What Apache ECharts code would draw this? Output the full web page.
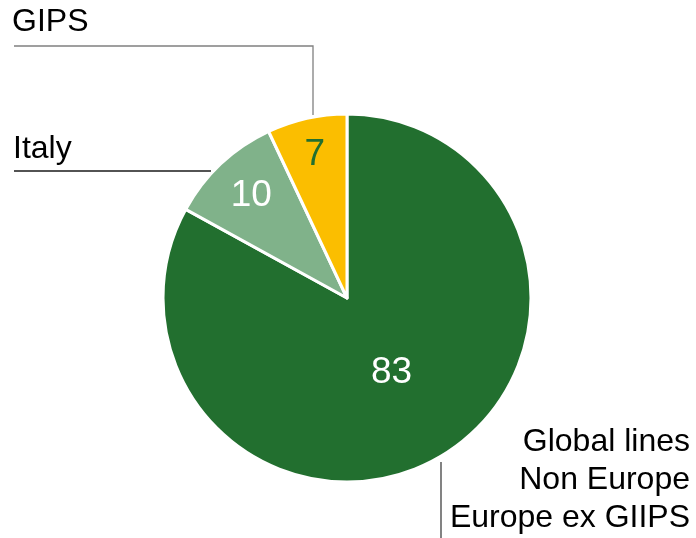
<!DOCTYPE html>
<html>
<head>
<meta charset="utf-8">
<script src="https://cdn.jsdelivr.net/npm/echarts@6/dist/echarts.min.js"></script>
<style>
  html, body { margin: 0; padding: 0; background: #fff; }
  #chart { width: 696px; height: 538px; }
</style>
</head>
<body>
<div id="chart"></div>
<script>
// slice data, clockwise from 12 o'clock
const names = ['Global lines\nNon Europe\nEurope ex GIIPS', 'Italy', 'GIPS'];
const values = [83, 10, 7];
const colors = ['#226f2f', '#80b28a', '#fbbe00'];
const valueColors = ['#ffffff', '#ffffff', '#226f2f'];

const CENTER = [347, 298];
const RADIUS = 184;
const FONT = '"Liberation Sans", Arial, sans-serif';

// where each value label sits, as a fraction of the radius
const valueLabelRadius = [0.475, 0.76, 0.8];

// name label placement and their leader lines
const nameLabelPos = [
  { x: 690, y: 480, align: 'right' },
  { x: 13, y: 149, align: 'left' },
  { x: 12, y: 22, align: 'left' },
];
const leaders = [
  { points: [[441, 462], [441, 538]], color: '#404040' },
  { points: [[14, 171], [211, 171]], color: '#1a1a1a' },
  { points: [[14, 46], [313, 46], [313, 115]], color: '#808080' },
];

const total = values.reduce((a, b) => a + b, 0);
const midFrac = values.map((v, i) => {
  const before = values.slice(0, i).reduce((a, b) => a + b, 0);
  return (before + v / 2) / total;
});

const chart = echarts.init(document.getElementById('chart'));

chart.setOption({
  animation: false,
  series: [
    {
      type: 'pie',
      center: CENTER,
      radius: RADIUS,
      startAngle: 90,
      silent: true,
      data: values.map((v, i) => ({
        name: names[i],
        value: v,
        itemStyle: { color: colors[i] },
        label: { color: valueColors[i] },
      })),
      itemStyle: { borderColor: '#ffffff', borderWidth: 3 },
      label: {
        show: true,
        position: 'inside',
        formatter: '{c}',
        fontFamily: FONT,
        fontSize: 37,
      },
      labelLine: { show: false },
      labelLayout: (params) => {
        const i = params.dataIndex;
        const a = midFrac[i] * Math.PI * 2;
        const r = RADIUS * valueLabelRadius[i];
        return {
          x: CENTER[0] + r * Math.sin(a),
          y: CENTER[1] - r * Math.cos(a),
          align: 'center',
          verticalAlign: 'middle',
        };
      },
    },
    {
      type: 'pie',
      center: CENTER,
      radius: RADIUS,
      startAngle: 90,
      silent: true,
      z: 1,
      data: values.map((v, i) => ({ name: names[i], value: v })),
      itemStyle: { color: 'rgba(0,0,0,0)', borderWidth: 0 },
      label: {
        show: true,
        position: 'outside',
        formatter: '{b}',
        color: '#000000',
        fontFamily: FONT,
        fontSize: 32,
        lineHeight: 38,
        overflow: 'none',
        width: 400,
      },
      labelLine: { show: false },
      labelLayout: (params) => {
        const p = nameLabelPos[params.dataIndex];
        return { x: p.x, y: p.y, align: p.align, verticalAlign: 'middle', width: 400 };
      },
    },
  ],
  graphic: leaders.map((l) => ({
    type: 'polyline',
    silent: true,
    shape: { points: l.points },
    style: { stroke: l.color, lineWidth: 1.3, fill: null },
  })),
});
</script>
</body>
</html>
